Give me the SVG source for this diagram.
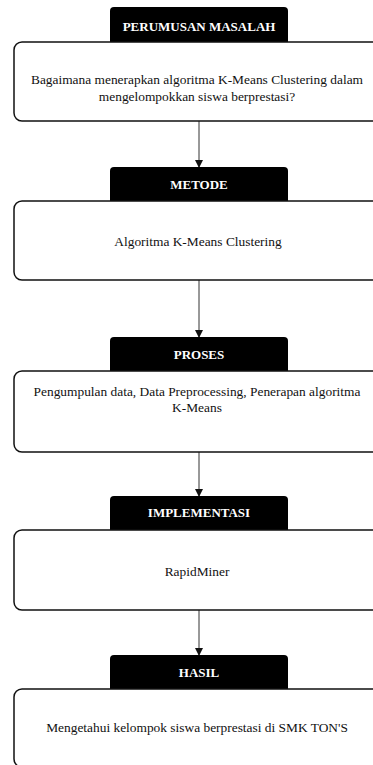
<svg xmlns="http://www.w3.org/2000/svg" width="373" height="765" viewBox="0 0 373 765">
<style>
.box{fill:#fff;stroke:#111;stroke-width:1.5}
.hdr{fill:#000}
.ht{font-family:"Liberation Serif","Times New Roman",serif;font-weight:bold;font-size:13px;fill:#fff;text-anchor:middle}
.ct{font-family:"Liberation Serif","Times New Roman",serif;font-size:13.4px;fill:#111;text-anchor:middle}
.con{stroke:#333;stroke-width:1;fill:none}
</style>
<defs>
<marker id="ah" markerWidth="8" markerHeight="8" refX="7" refY="4" orient="auto" markerUnits="userSpaceOnUse">
<path d="M0,0 L8,4 L0,8 Z" fill="#111"/>
</marker>
</defs>
<g id="connectors">
<line class="con" x1="199" y1="121" x2="199" y2="167" marker-end="url(#ah)"/>
<line class="con" x1="199" y1="280" x2="199" y2="337" marker-end="url(#ah)"/>
<line class="con" x1="199" y1="452" x2="199" y2="496" marker-end="url(#ah)"/>
<line class="con" x1="199" y1="610" x2="199" y2="655" marker-end="url(#ah)"/>
</g>
<g id="n1">
<path class="hdr" d="M110,42 V11 Q110,7 114,7 H284 Q288,7 288,11 V42 Z"/>
<text class="ht" x="199" y="31">PERUMUSAN MASALAH</text>
<rect class="box" x="14" y="42" width="370" height="79" rx="8"/>
<text class="ct" x="197" y="84">Bagaimana menerapkan algoritma K-Means Clustering dalam</text>
<text class="ct" x="197" y="101">mengelompokkan siswa berprestasi?</text>
</g>
<g id="n2">
<path class="hdr" d="M110,201 V171 Q110,167 114,167 H284 Q288,167 288,171 V201 Z"/>
<text class="ht" x="199" y="189">METODE</text>
<rect class="box" x="14" y="201" width="370" height="79" rx="8"/>
<text class="ct" x="198" y="246">Algoritma K-Means Clustering</text>
</g>
<g id="n3">
<path class="hdr" d="M110,371 V341 Q110,337 114,337 H284 Q288,337 288,341 V371 Z"/>
<text class="ht" x="199" y="359">PROSES</text>
<rect class="box" x="14" y="371" width="370" height="81" rx="8"/>
<text class="ct" x="197" y="396">Pengumpulan data, Data Preprocessing, Penerapan algoritma</text>
<text class="ct" x="197" y="412">K-Means</text>
</g>
<g id="n4">
<path class="hdr" d="M110,530 V500 Q110,496 114,496 H284 Q288,496 288,500 V530 Z"/>
<text class="ht" x="199" y="517">IMPLEMENTASI</text>
<rect class="box" x="14" y="530" width="370" height="80" rx="8"/>
<text class="ct" x="197" y="576">RapidMiner</text>
</g>
<g id="n5">
<path class="hdr" d="M110,689 V659 Q110,655 114,655 H284 Q288,655 288,659 V689 Z"/>
<text class="ht" x="199" y="677">HASIL</text>
<rect class="box" x="14" y="689" width="370" height="78" rx="8"/>
<text class="ct" x="197" y="732">Mengetahui kelompok siswa berprestasi di SMK TON'S</text>
</g>
</svg>
